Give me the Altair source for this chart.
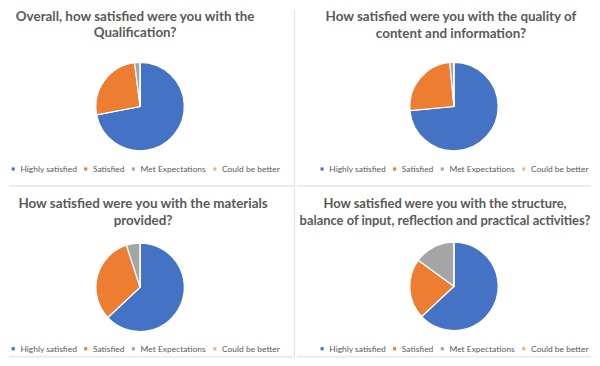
import altair as alt
import pandas as pd

categories = ["Highly satisfied", "Satisfied", "Met Expectations", "Could be better"]
colors = ["#4472C4", "#ED7D31", "#A5A5A5", "#F4B183"]

titles = [
    ["Overall, how satisfied were you with the", "Qualification?"],
    ["How satisfied were you with the quality of", "content and information?"],
    ["How satisfied were you with the materials", "provided?"],
    ["How satisfied were you with the structure,", "balance of input, reflection and practical activities?"],
]

values_q1 = [72, 26, 2, 0]
values_q2 = [73.5, 25, 1.5, 0]
values_q3 = [63, 32, 5, 0]
values_q4 = [63, 22, 15, 0]

FONT = "Lato"
GREY = "#595959"


def panel(title_lines, values, w, h, cx, cy, title_cx, title_off, title_size, leg_x, leg_y, vrule):
    df = pd.DataFrame({"Rating": categories, "Share": values, "idx": list(range(len(categories)))})
    pie = alt.Chart(df).mark_arc(radius=44.5, stroke="white", strokeWidth=1.2).encode(
        theta=alt.Theta("Share:Q", stack=True),
        order=alt.Order("idx:Q"),
        color=alt.Color(
            "Rating:N",
            scale=alt.Scale(domain=categories, range=colors),
            sort=categories,
            legend=alt.Legend(
                orient="none", legendX=leg_x, legendY=leg_y, direction="horizontal",
                title=None, labelFont=FONT, labelFontSize=8.5, labelColor=GREY,
                symbolType="square", symbolSize=10, symbolStrokeWidth=0,
                columnPadding=4, labelOffset=3, padding=0,
            ),
        ),
        x=alt.value(cx),
        y=alt.value(cy),
    )
    one = pd.DataFrame({"d": [0]})
    layers = [pie]
    if vrule:
        layers.append(
            alt.Chart(one).mark_rule(color="#dedede", strokeWidth=1).encode(
                x=alt.value(w - 0.5), y=alt.value(0), y2=alt.value(h)
            )
        )
    layers.append(
        alt.Chart(one).mark_rule(color="#ebebeb", strokeWidth=2).encode(
            x=alt.value(0), x2=alt.value(w), y=alt.value(h - 1)
        )
    )
    return alt.layer(*layers).properties(
        width=w, height=h,
        title=alt.Title(
            text=title_lines, fontSize=title_size, font=FONT, fontWeight="bold", color=GREY,
            anchor="middle", frame="group", offset=title_off, dx=title_cx - w / 2, lineHeight=17,
        ),
    )


p1 = panel(titles[0], values_q1, 288, 178, 132, 97, 127, -30.5, 13.5, 0, 155.5, True)
p2 = panel(titles[1], values_q2, 296, 178, 158, 97, 155, -30.5, 13.5, 21, 155.5, False)
p3 = panel(titles[2], values_q3, 288, 170, 132, 99, 135, -39, 13.5, 0, 156.5, True)
p4 = panel(titles[3], values_q4, 296, 170, 158, 98, 149, -39, 13, 21, 156.5, False)

top_row = alt.hconcat(p1, p2, spacing=0).resolve_scale(color="independent")
bottom_row = alt.hconcat(p3, p4, spacing=0).resolve_scale(color="independent")
chart = alt.vconcat(top_row, bottom_row, spacing=0).resolve_scale(color="independent").properties(
    padding=0, background="white"
).configure_view(stroke=None).configure_concat(spacing=0)

chart.save("out.html", embed_options={"renderer": "svg", "actions": False})
